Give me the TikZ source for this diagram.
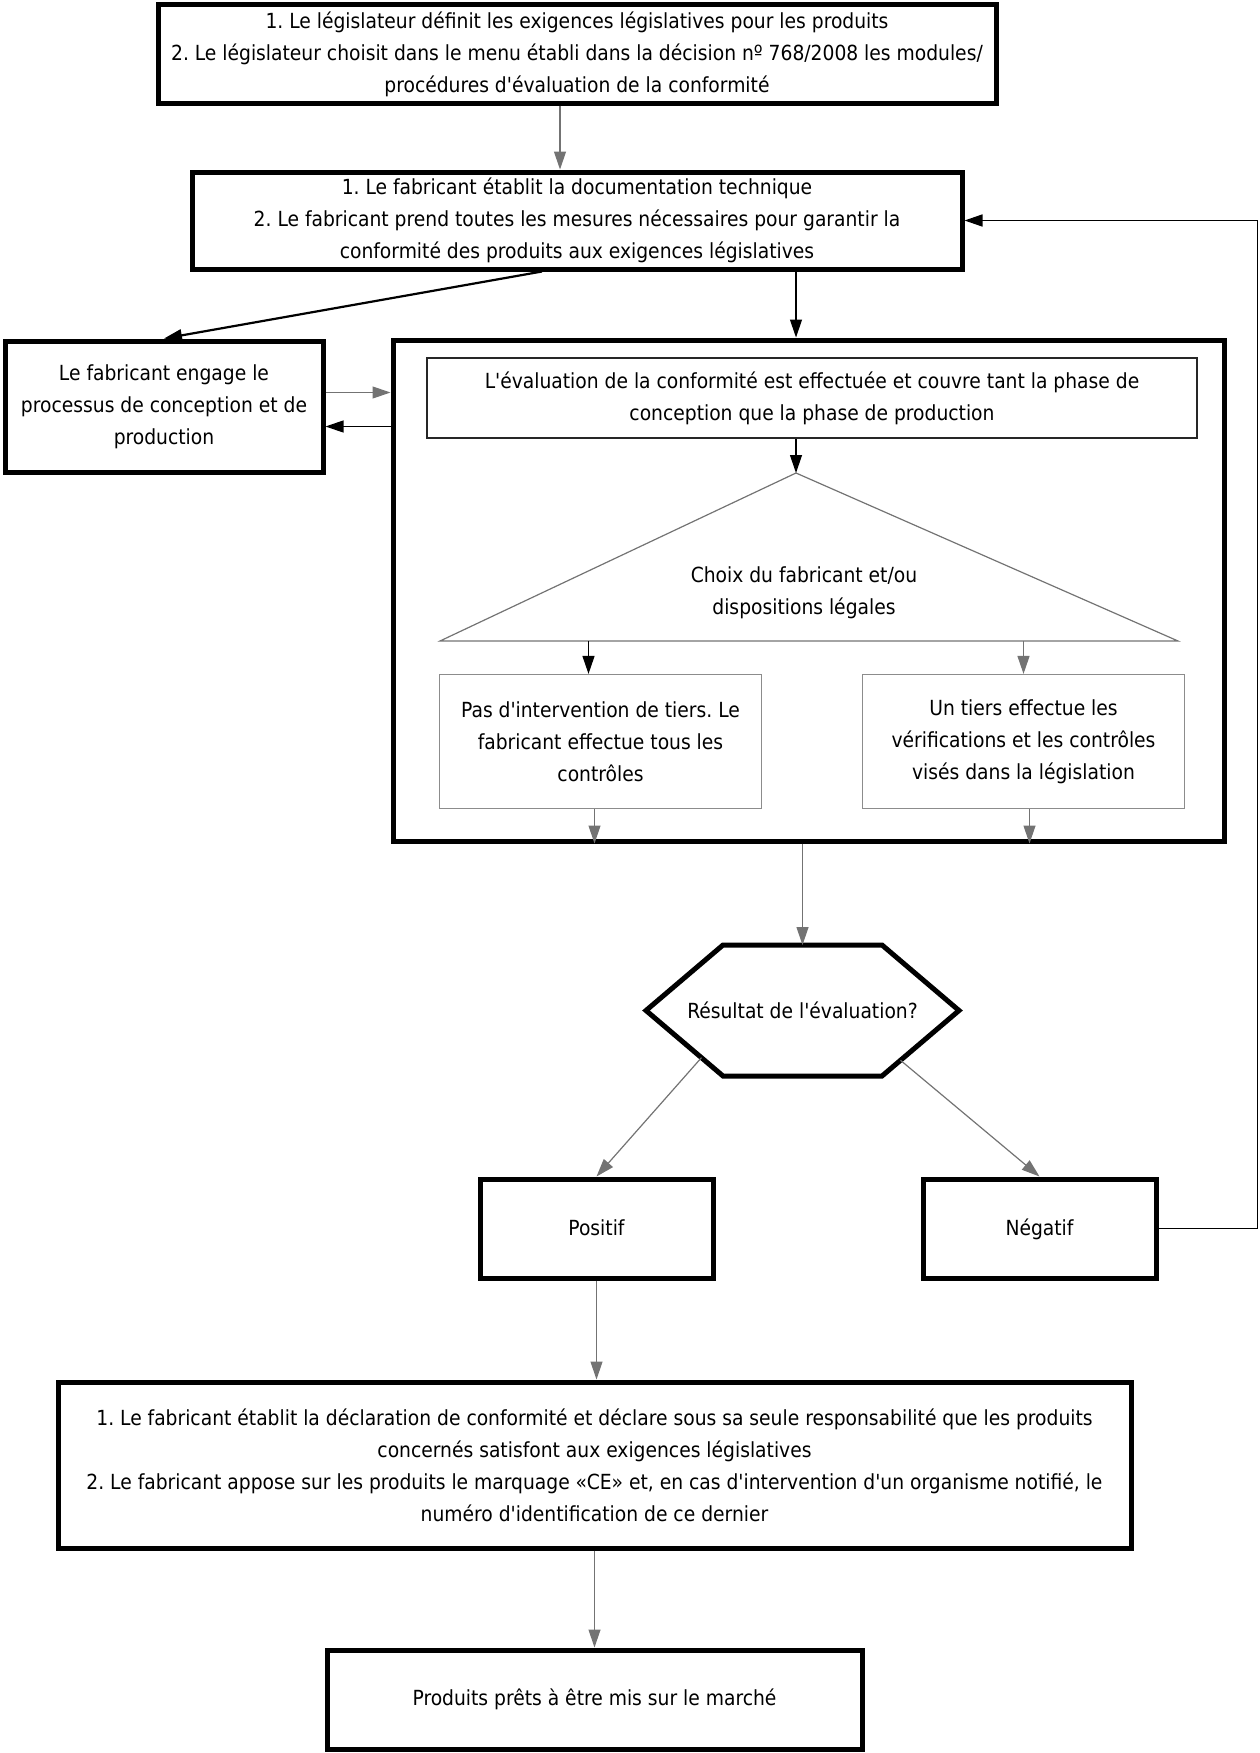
\documentclass[tikz,border=0pt]{standalone}
\usepackage{fontspec}
\setmainfont{DejaVu Sans Condensed}[Ligatures=TeXOff]
\usetikzlibrary{
    arrows.meta,
    calc
}
\frenchspacing

\begin{document}
\begin{tikzpicture}[
    x=1pt, y=-1pt,
    font=\fontsize{20.8}{32}\selectfont,
    box/.style={
        rectangle,
        draw=black,
        line width=5pt,
        align=center,
        fill=white
    },
    evalstyle/.style={
        rectangle,
        draw=black!85,
        line width=2pt,
        align=center
    },
    choicebox/.style={
        rectangle,
        draw=black!45,
        line width=1.2pt,
        align=center
    },
    arrow/.style={
        -{Triangle[length=18pt,width=12pt]},
        line width=1.2pt,
        draw=black!55
    },
    darkarrow/.style={
        -{Triangle[length=18pt,width=12pt]},
        line width=2.2pt,
        draw=black
    }
]
\useasboundingbox (0,0) rectangle (1260,1753);

% =========================================================
% Legislator and technical documentation
% =========================================================
\node[box, minimum width=838pt, minimum height=98pt] (legis) at (577,54)
{1. Le législateur définit les exigences législatives pour les produits\\
2. Le législateur choisit dans le menu établi dans la décision nº 768/2008 les modules/\\
procédures d'évaluation de la conformité};

\node[box, minimum width=770pt, minimum height=97pt] (doc) at (577,220.5)
{1. Le fabricant établit la documentation technique\\
2. Le fabricant prend toutes les mesures nécessaires pour garantir la\\
conformité des produits aux exigences législatives};

\node[box, minimum width=318pt, minimum height=131pt] (engage) at (164,406.5)
{Le fabricant engage le\\processus de conception et de\\production};

% =========================================================
% Conformity assessment frame
% =========================================================
\node[box, fill=none, minimum width=831pt, minimum height=501pt] (frame) at (808.5,590.5) {};

\node[evalstyle, minimum width=770pt, minimum height=80pt] (evalbox) at (812,398)
{L'évaluation de la conformité est effectuée et couvre tant la phase de\\
conception que la phase de production};

\coordinate (apex) at (796,473);
\coordinate (baseL) at (440,641);
\coordinate (baseR) at (1178,641);
\draw[line width=1.2pt, draw=black!55] (apex) -- (baseR) -- (baseL) -- cycle;
\node[align=center] (choix) at (804,593) {Choix du fabricant et/ou\\dispositions légales};

\node[choicebox, minimum width=322pt, minimum height=134pt] (nothird) at (600.5,741.5)
{Pas d'intervention de tiers. Le\\fabricant effectue tous les\\contrôles};

\node[choicebox, minimum width=322pt, minimum height=134pt] (third) at (1023.5,741.5)
{Un tiers effectue les\\vérifications et les contrôles\\visés dans la législation};

% =========================================================
% Result of the assessment
% =========================================================
\coordinate (hexW) at (646,1010.5);
\coordinate (hexNW) at (723,945);
\coordinate (hexNE) at (882,945);
\coordinate (hexE) at (959,1010.5);
\coordinate (hexSE) at (882,1076);
\coordinate (hexSW) at (723,1076);
\draw[line width=5pt] (hexW) -- (hexNW) -- (hexNE) -- (hexE) -- (hexSE) -- (hexSW) -- cycle;
\node (result) at (802.5,1010.5) {Résultat de l'évaluation?};

\node[box, minimum width=233pt, minimum height=99pt, text height=2.7ex, text depth=0.1ex] (positif) at (596.5,1228.5) {Positif};
\node[box, minimum width=233pt, minimum height=99pt, text height=2.7ex, text depth=0.1ex] (negatif) at (1039.5,1228.5) {Négatif};

% =========================================================
% Declaration and market
% =========================================================
\node[box, minimum width=1073pt, minimum height=166pt] (declar) at (594.5,1465)
{1. Le fabricant établit la déclaration de conformité et déclare sous sa seule responsabilité que les produits\\
concernés satisfont aux exigences législatives\\
2. Le fabricant appose sur les produits le marquage «CE» et, en cas d'intervention d'un organisme notifié, le\\
numéro d'identification de ce dernier};

\node[box, minimum width=535pt, minimum height=99pt] (market) at (594.5,1699.5)
{Produits prêts à être mis sur le marché};

% =========================================================
% Arrows
% =========================================================
\draw[arrow] ([xshift=-17pt]legis.south) -- ([xshift=-17pt]legis.south |- doc.north);
\draw[darkarrow] ([xshift=-35pt]doc.south) -- (engage.north);
\draw[arrow, draw=black] (apex |- doc.south) -- (apex |- frame.north);

\draw[arrow] ([yshift=14pt]engage.east) -- ([yshift=14pt]engage.east -| frame.west);
\draw[arrow, draw=black] ([yshift=-20pt]engage.east -| frame.west) -- ([yshift=-20pt]engage.east);

\draw[arrow, draw=black] (apex |- evalbox.south) -- (apex);
\draw[arrow, draw=black] ([xshift=-12pt]nothird.north |- baseL) -- ([xshift=-12pt]nothird.north);
\draw[arrow] (third.north |- baseR) -- (third.north);
\draw[arrow] ([xshift=-6pt]nothird.south) -- ([xshift=-6pt]nothird.south |- frame.south);
\draw[arrow] ([xshift=6pt]third.south) -- ([xshift=6pt]third.south |- frame.south);

\draw[arrow] (result |- frame.south) -- (result |- hexNW);
\draw[arrow] ($(hexW)!0.72!(hexSW)$) -- (positif.north);
\draw[arrow] ($(hexE)!0.76!(hexSE)$) -- (negatif.north);

\draw[darkarrow, line width=1.6pt] (negatif.east) -- ++(99,0) |- (doc.east);

\draw[arrow] (positif.south) -- (positif.south |- declar.north);
\draw[arrow] (declar.south) -- (market.north);

\end{tikzpicture}
\end{document}
